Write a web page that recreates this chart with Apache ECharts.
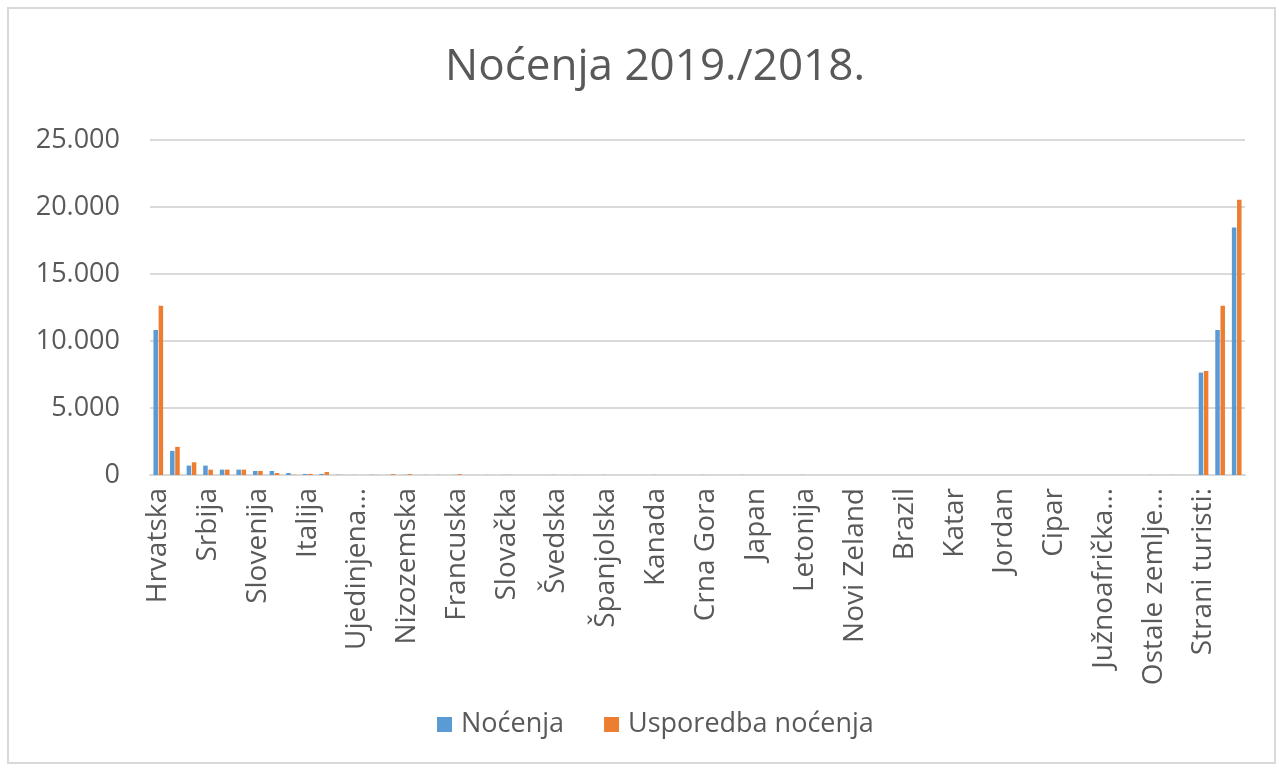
<!DOCTYPE html>
<html>
<head>
<meta charset="utf-8">
<title>Noćenja 2019./2018.</title>
<script src="https://cdn.jsdelivr.net/npm/echarts@6/dist/echarts.min.js"></script>
<style>
  html, body { margin: 0; padding: 0; background: #fff; }
  #chart { width: 1279px; height: 771px; }
</style>
</head>
<body>
<div id="chart"></div>
<script>
  // kategorije (zemlje) - na osi se vidi svaka treća
  const categories = [
    'Hrvatska', 'Bosna i Hercegovina', 'Njemačka', 'Srbija', 'Austrija', 'Mađarska',
    'Slovenija', 'Poljska', 'Češka', 'Italija', 'Sjeverna Makedonija', 'SAD',
    'Ujedinjena Kraljevina', 'Švicarska', 'Belgija', 'Nizozemska', 'Rusija', 'Rumunjska',
    'Francuska', 'Bugarska', 'Ukrajina', 'Slovačka', 'Kina', 'Australija',
    'Švedska', 'Norveška', 'Danska', 'Španjolska', 'Turska', 'Irska',
    'Kanada', 'Koreja', 'Izrael', 'Crna Gora', 'Grčka', 'Finska',
    'Japan', 'Litva', 'Estonija', 'Letonija', 'Luksemburg', 'Indija',
    'Novi Zeland', 'Argentina', 'Meksiko', 'Brazil', 'Čile', 'Egipat',
    'Katar', 'Ujedinjeni Arapski Emirati', 'Saudijska Arabija', 'Jordan', 'Malta', 'Island',
    'Cipar', 'Albanija', 'Kosovo', 'Južnoafrička Republika', 'Tajvan', 'Singapur',
    'Ostale zemlje Europe', 'Ostale zemlje Azije', 'Ostale zemlje Afrike', 'Strani turisti:', 'Domaći turisti:', 'Ukupno:'
  ]

  // Noćenja 2019.
  const nocenja = [
    10830, 1800, 700, 700, 400, 400,
    300, 300, 150, 80, 80, 20,
    10, 20, 10, 10, 0, 10,
    10, 0, 10, 10, 0, 0,
    10, 0, 0, 10, 0, 0,
    10, 0, 0, 10, 0, 0,
    0, 0, 0, 10, 0, 0,
    0, 0, 0, 0, 0, 0,
    0, 0, 0, 0, 0, 0,
    0, 0, 0, 0, 0, 0,
    10, 0, 0, 7640, 10830, 18470
  ]

  // Usporedba noćenja (2018.)
  const usporedba = [
    12630, 2100, 950, 400, 400, 400,
    300, 150, 20, 80, 220, 10,
    0, 10, 60, 60, 10, 0,
    60, 0, 0, 10, 0, 0,
    0, 10, 0, 0, 0, 0,
    0, 0, 0, 0, 0, 10,
    0, 0, 0, 0, 0, 0,
    0, 0, 0, 0, 0, 0,
    0, 0, 0, 0, 0, 0,
    0, 0, 0, 0, 0, 0,
    0, 10, 0, 7760, 12630, 20550
  ]

  const seriesNames = ['Noćenja', 'Usporedba noćenja']
  const yTicks = { min: 0, max: 25000, interval: 5000 }

  const textColor = '#595959'
  const lineColor = '#d9d9d9'
  const font = "'Open Sans', 'Noto Sans', sans-serif"

  // 12.345 -> "12.345"
  function fmt(v) {
    return String(v).replace(/\B(?=(\d{3})+(?!\d))/g, '.')
  }

  // duge nazive skrati kao Excel: zadnja riječ -> "…"
  function shortName(name) {
    if (name.length <= 16) {
      return name
    }
    let parts = name.split(' ')
    parts.pop()
    return parts.join(' ') + '…'
  }

  const chart = echarts.init(document.getElementById('chart'))
  chart.setOption({
    backgroundColor: '#fff',
    animation: false,
    color: ['#5B9BD5', '#ED7D31'],
    textStyle: { fontFamily: font },
    title: {
      text: 'Noćenja 2019./2018.',
      left: 650,
      textAlign: 'center',
      top: 40,
      textStyle: { color: textColor, fontSize: 44, fontWeight: 'normal', fontFamily: font }
    },
    graphic: [{
      type: 'rect',
      shape: { x: 8, y: 8, width: 1267, height: 755 },
      style: { fill: 'none', stroke: lineColor, lineWidth: 2 },
      silent: true
    }],
    legend: {
      data: seriesNames,
      left: 432,
      top: 706,
      itemWidth: 15,
      itemHeight: 15,
      itemGap: 40,
      icon: 'rect',
      textStyle: { color: textColor, fontSize: 27, fontFamily: font, padding: [0, 0, 0, 4] }
    },
    grid: {
      left: 150,
      right: 34,
      top: 140,
      bottom: 296,
      containLabel: false
    },
    xAxis: {
      type: 'category',
      data: categories,
      axisLine: { lineStyle: { color: lineColor, width: 2 } },
      axisTick: { show: false },
      axisLabel: {
        interval: 2,
        rotate: 90,
        margin: 13,
        color: textColor,
        fontSize: 28,
        fontFamily: font,
        formatter: shortName
      }
    },
    yAxis: {
      type: 'value',
      min: yTicks.min,
      max: yTicks.max,
      interval: yTicks.interval,
      axisLine: { show: false },
      axisTick: { show: false },
      splitLine: { lineStyle: { color: lineColor, width: 2 } },
      axisLabel: {
        margin: 30,
        color: textColor,
        fontSize: 27,
        fontFamily: font,
        formatter: fmt
      }
    },
    series: [{
      name: seriesNames[0],
      type: 'bar',
      barWidth: 4.5,
      barGap: '15%',
      data: nocenja
    }, {
      name: seriesNames[1],
      type: 'bar',
      barWidth: 4.5,
      barGap: '15%',
      data: usporedba
    }]
  })
</script>
</body>
</html>
